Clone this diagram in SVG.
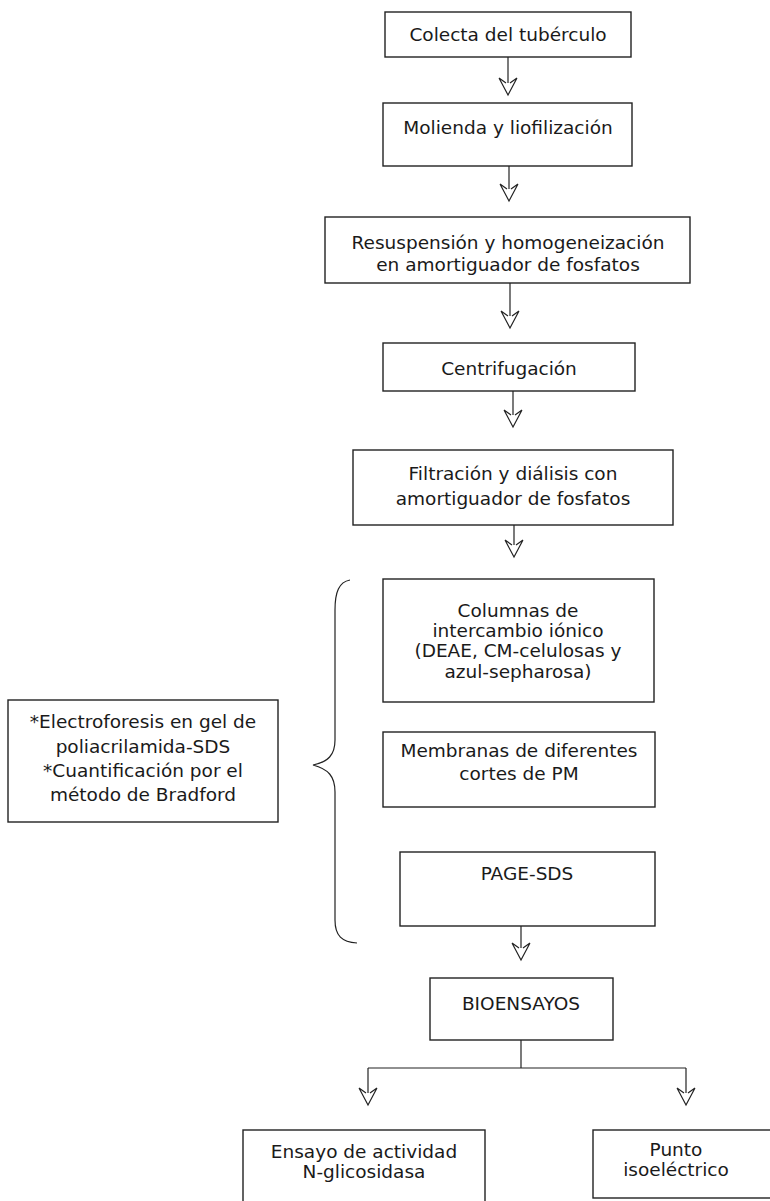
<svg xmlns="http://www.w3.org/2000/svg" width="770" height="1201" viewBox="0 0 770 1201">
<defs>
<style>
.box{fill:#fff;stroke:#222;stroke-width:1.4}
.t{font-family:"DejaVu Sans","Liberation Sans",sans-serif;font-size:18.5px;fill:#1a1a1a;text-anchor:middle}
.c{fill:none;stroke:#222;stroke-width:1.2}
</style>
<g id="ah" class="c">
<path d="M-9,-17 L0,0 L9,-17 M-9,-17 L-2,-12 M9,-17 L2,-12"/>
</g>
</defs>
<rect width="770" height="1201" fill="#fff"/>
<g id="n1"><rect class="box" x="385" y="12" width="246" height="45"/><text class="t" x="508" y="41">Colecta del tubérculo</text></g>
<g id="n2"><rect class="box" x="383" y="103" width="249" height="63"/><text class="t" x="508" y="134">Molienda y liofilización</text></g>
<g id="n3"><rect class="box" x="325" y="217" width="365" height="66"/><text class="t" x="508" y="249">Resuspensión y homogeneización</text><text class="t" x="508" y="271">en amortiguador de fosfatos</text></g>
<g id="n4"><rect class="box" x="383" y="343" width="252" height="48"/><text class="t" x="509" y="375">Centrifugación</text></g>
<g id="n5"><rect class="box" x="353" y="450" width="320" height="75"/><text class="t" x="513" y="480">Filtración y diálisis con</text><text class="t" x="513" y="505">amortiguador de fosfatos</text></g>
<g id="n6"><rect class="box" x="383" y="579" width="271" height="123"/><text class="t" x="518" y="617">Columnas de</text><text class="t" x="518" y="637">intercambio iónico</text><text class="t" x="518" y="657">(DEAE, CM-celulosas y</text><text class="t" x="518" y="678">azul-sepharosa)</text></g>
<g id="n7"><rect class="box" x="383" y="732" width="272" height="75"/><text class="t" x="519" y="757">Membranas de diferentes</text><text class="t" x="519" y="780">cortes de PM</text></g>
<g id="n8"><rect class="box" x="400" y="852" width="255" height="74"/><text class="t" x="527" y="880">PAGE-SDS</text></g>
<g id="n9"><rect class="box" x="430" y="978" width="183" height="62"/><text class="t" x="521" y="1010">BIOENSAYOS</text></g>
<g id="n10"><rect class="box" x="243" y="1130" width="242" height="90"/><text class="t" x="364" y="1158">Ensayo de actividad</text><text class="t" x="364" y="1178">N-glicosidasa</text></g>
<g id="n11"><rect class="box" x="593" y="1130" width="190" height="68"/><text class="t" x="676" y="1156">Punto</text><text class="t" x="676" y="1176">isoeléctrico</text></g>
<g id="n12"><rect class="box" x="8" y="700" width="270" height="122"/><text class="t" x="143" y="728">*Electroforesis en gel de</text><text class="t" x="143" y="753">poliacrilamida-SDS</text><text class="t" x="143" y="777">*Cuantificación por el</text><text class="t" x="143" y="801">método de Bradford</text></g>
<g id="connectors" class="c">
<path d="M350,580 C339,582 335,592 335,610 L335,740 C335,755 328,762 313,765 C328,769 335,776 335,792 L335,920 C335,936 342,942 357,943"/>
<line x1="508" y1="57" x2="508" y2="83"/><use href="#ah" x="508" y="95"/>
<line x1="509" y1="166" x2="509" y2="189"/><use href="#ah" x="509" y="201"/>
<line x1="510" y1="283" x2="510" y2="316"/><use href="#ah" x="510" y="328"/>
<line x1="513" y1="391" x2="513" y2="415"/><use href="#ah" x="513" y="427"/>
<line x1="514" y1="525" x2="514" y2="545"/><use href="#ah" x="514" y="557"/>
<line x1="521" y1="926" x2="521" y2="948"/><use href="#ah" x="521" y="960"/>
<line x1="521" y1="1040" x2="521" y2="1068"/>
<line x1="368" y1="1068" x2="686" y2="1068"/>
<line x1="368" y1="1068" x2="368" y2="1093"/><use href="#ah" x="368" y="1105"/>
<line x1="686" y1="1068" x2="686" y2="1093"/><use href="#ah" x="686" y="1105"/>
</g>
</svg>
